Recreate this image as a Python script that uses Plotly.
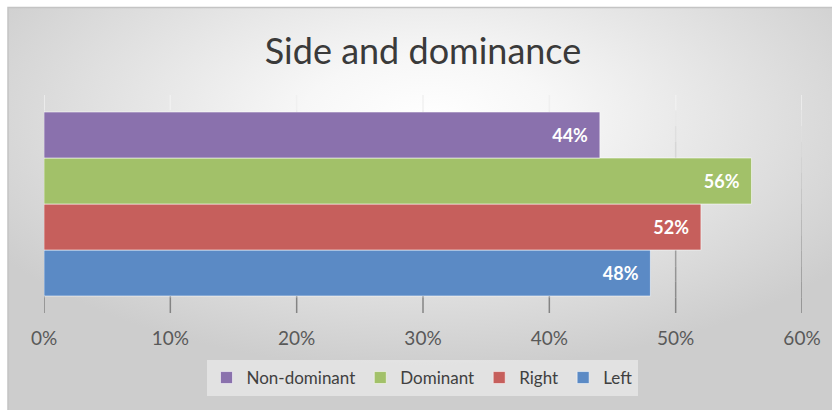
import base64
import plotly.graph_objects as go

# Chart data
series_names = ["Left", "Right", "Dominant", "Non-dominant"]
series_values = [0.48, 0.52, 0.56, 0.44]
series_colors = ["#5b8ac5", "#c65f5c", "#a2c169", "#8a71ad"]
category = ["Side"]
tick_values = [0, 0.1, 0.2, 0.3, 0.4, 0.5, 0.6]
tick_labels = ["0%", "10%", "20%", "30%", "40%", "50%", "60%"]

W, H = 832, 410
ML, MR, MT, MB = 44, 30, 95, 97
PW, PH = W - ML - MR, H - MT - MB


def px_to_paper_x(px):
    return (px - ML) / PW


def px_to_paper_y(py):
    return (H - MB - py) / PH


# Radial grey background, as an inline SVG image
svg = (
    '<svg xmlns="http://www.w3.org/2000/svg" width="824" height="403" preserveAspectRatio="none">'
    '<defs><radialGradient id="g" cx="0.51" cy="0.28" r="0.62">'
    '<stop offset="0" stop-color="#ffffff"/>'
    '<stop offset="0.25" stop-color="#f7f7f7"/>'
    '<stop offset="0.7" stop-color="#dedede"/>'
    '<stop offset="1" stop-color="#cdcdcd"/>'
    '</radialGradient></defs>'
    '<rect width="824" height="403" fill="url(#g)"/></svg>'
)
bg_src = "data:image/svg+xml;base64," + base64.b64encode(svg.encode()).decode()

fig = go.Figure()
for name, val, col in zip(series_names, series_values, series_colors):
    fig.add_trace(go.Bar(
        name=name,
        y=category,
        x=[val],
        orientation="h",
        marker=dict(color=col, line=dict(color="rgba(255,255,255,0.55)", width=1)),
        texttemplate="%{x:.0%}\u2002",
        textposition="inside",
        insidetextanchor="end",
        textangle=0,
        insidetextfont=dict(family="Lato", size=18, color="white", weight="bold"),
        hoverinfo="skip",
    ))

# Gridlines that darken from top to bottom
shapes = []
n_seg = 14
for tv in tick_values:
    for k in range(n_seg):
        t = (k + 0.5) / n_seg
        g = int(round(244 - (244 - 128) * t))
        shapes.append(dict(
            type="line", xref="x", yref="paper", layer="below",
            x0=tv, x1=tv, y0=1 - k / n_seg, y1=1 - (k + 1) / n_seg,
            line=dict(color=f"rgb({g},{g},{g})", width=1.5),
        ))

# Outer chart border
shapes.append(dict(
    type="rect", xref="paper", yref="paper", layer="above",
    x0=px_to_paper_x(8), x1=px_to_paper_x(834),
    y0=px_to_paper_y(412), y1=px_to_paper_y(7.5),
    line=dict(color="#c4c4c4", width=1.5), fillcolor="rgba(0,0,0,0)",
))

fig.update_layout(
    width=W, height=H,
    margin=dict(l=ML, r=MR, t=MT, b=MB),
    paper_bgcolor="white",
    plot_bgcolor="rgba(0,0,0,0)",
    barmode="group",
    bargap=0.156,
    bargroupgap=0,
    showlegend=True,
    title=dict(
        text="Side and dominance",
        x=0.5, xref="paper", xanchor="center",
        y=1 - 51 / H, yref="container", yanchor="middle",
        font=dict(family="Lato", size=36, color="#3a3a3a"),
    ),
    xaxis=dict(
        range=[0, 0.6],
        tickvals=tick_values,
        ticktext=tick_labels,
        showgrid=False,
        zeroline=False,
        showline=False,
        ticks="",
        ticklabelstandoff=12,
        tickfont=dict(family="Lato", size=19, color="#595959"),
        fixedrange=True,
    ),
    yaxis=dict(
        showticklabels=False,
        showgrid=False,
        zeroline=False,
        showline=False,
        ticks="",
        fixedrange=True,
    ),
    legend=dict(
        orientation="h",
        traceorder="reversed",
        x=px_to_paper_x(422), xanchor="center",
        y=px_to_paper_y(360), yanchor="top",
        bgcolor="rgba(240,240,240,0.6)",
        font=dict(family="Lato", size=17, color="#404040"),
        itemwidth=30,
        itemclick=False,
        itemdoubleclick=False,
    ),
    images=[dict(
        source=bg_src, xref="paper", yref="paper",
        x=px_to_paper_x(8), y=px_to_paper_y(7),
        sizex=(W - 8) / PW, sizey=(H - 7) / PH,
        xanchor="left", yanchor="top", sizing="stretch", layer="below",
    )],
    shapes=shapes,
)

fig.write_html("out.html", config={"displayModeBar": False})
